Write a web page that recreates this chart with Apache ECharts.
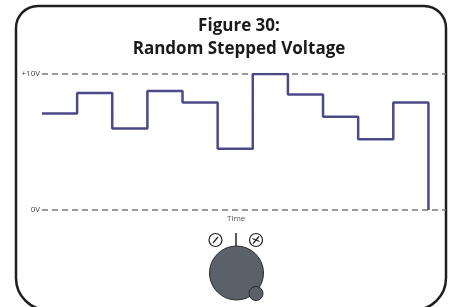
<!DOCTYPE html>
<html>
<head>
<meta charset="utf-8">
<style>
  html, body { margin: 0; padding: 0; background: #fff; }
  #chart { width: 454px; height: 307px; }
</style>
<script src="https://cdn.jsdelivr.net/npm/echarts@6/dist/echarts.min.js"></script>
</head>
<body>
<div id="chart"></div>
<script>
// step times (one sample per clock tick) and the held voltage after each tick
const stepTimes = [0, 1, 2, 3, 4, 5, 6, 7, 8, 9, 10, 11];
const stepVolts = [7.1, 8.6, 6.0, 8.75, 7.9, 4.5, 10, 8.5, 6.85, 5.2, 7.9, 0];
const yTicks = [0, 10];
const yTickLabels = ['0V', '+10V'];

const chart = echarts.init(document.getElementById('chart'));

const font = '"Open Sans", "Noto Sans", sans-serif';

chart.setOption({
  animation: false,
  title: {
    text: 'Figure 30:\nRandom Stepped Voltage',
    left: 234,
    top: 10,
    textAlign: 'center',
    textStyle: {
      fontFamily: font,
      fontWeight: 'bold',
      fontSize: 17,
      lineHeight: 23,
      color: '#1a1a1a'
    }
  },
  grid: { left: 42, right: 8, top: 74, bottom: 97 },
  xAxis: {
    type: 'value',
    min: 0,
    max: 11.5,
    show: false
  },
  yAxis: {
    type: 'value',
    min: yTicks[0],
    max: yTicks[1],
    interval: 10,
    axisLine: { show: false },
    axisTick: { show: false },
    axisLabel: {
      margin: 2,
      fontFamily: font,
      fontSize: 8,
      color: '#444',
      formatter: v => yTickLabels[yTicks.indexOf(v)]
    },
    splitLine: {
      show: true,
      lineStyle: { color: '#7a7a7a', width: 1.5, type: [6, 4] }
    }
  },
  series: [{
    type: 'line',
    step: 'end',
    data: stepTimes.map((t, i) => [t, stepVolts[i]]),
    showSymbol: false,
    lineStyle: { color: '#4b4a88', width: 2.5 },
    z: 3
  }],
  graphic: [
    // rounded frame
    {
      type: 'rect',
      shape: { x: 16, y: 6, width: 430, height: 304, r: [22, 22, 32, 32] },
      style: { fill: 'none', stroke: '#1e1e1e', lineWidth: 2.5 },
      silent: true
    },
    {
      type: 'text',
      left: 227,
      top: 215,
      style: { text: 'Time', font: '8px ' + font, fill: '#555' }
    },
    // knob
    {
      type: 'line',
      shape: { x1: 236, y1: 233, x2: 236, y2: 246 },
      style: { stroke: '#222', lineWidth: 1.5 }
    },
    {
      type: 'circle',
      shape: { cx: 236.5, cy: 273, r: 27 },
      style: { fill: '#5b6169', stroke: '#2a2a2a', lineWidth: 1 }
    },
    {
      type: 'circle',
      shape: { cx: 256, cy: 293.5, r: 7 },
      style: { fill: '#5b6169', stroke: '#2a2a2a', lineWidth: 1 }
    },
    {
      type: 'circle',
      shape: { cx: 215.5, cy: 240, r: 6.5 },
      style: { fill: '#fff', stroke: '#222', lineWidth: 1.2 }
    },
    {
      type: 'line',
      shape: { x1: 213, y1: 243, x2: 218, y2: 237 },
      style: { stroke: '#222', lineWidth: 1.2 }
    },
    {
      type: 'circle',
      shape: { cx: 256, cy: 240, r: 6.5 },
      style: { fill: '#fff', stroke: '#222', lineWidth: 1.2 }
    },
    {
      type: 'line',
      shape: { x1: 253, y1: 243.5, x2: 259, y2: 236.5 },
      style: { stroke: '#222', lineWidth: 1.2 }
    },
    {
      type: 'line',
      shape: { x1: 252.5, y1: 238.5, x2: 259.5, y2: 241.5 },
      style: { stroke: '#222', lineWidth: 1.2 }
    }
  ]
});
</script>
</body>
</html>
